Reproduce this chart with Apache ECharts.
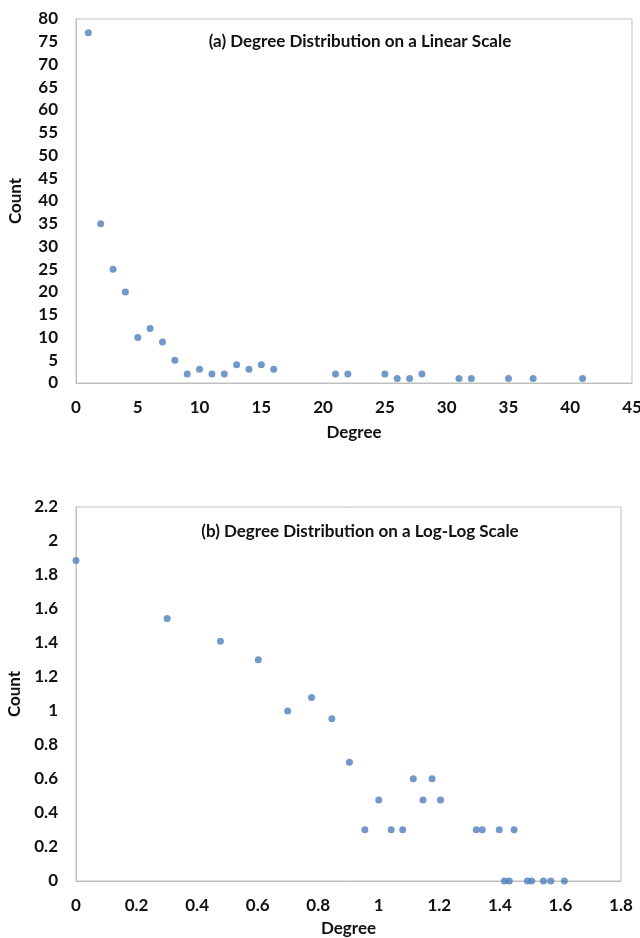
<!DOCTYPE html>
<html>
<head>
<meta charset="utf-8">
<script src="https://cdn.jsdelivr.net/npm/echarts@6/dist/echarts.min.js"></script>
<style>
  html, body { margin: 0; padding: 0; background: #fff; }
  #main { width: 640px; height: 938px; }
</style>
</head>
<body>
<div id="main"></div>
<script>
// degree and count, linear scale (panel a)
var degrees = [1, 2, 3, 4, 5, 6, 7, 8, 9, 10, 11, 12, 13, 14, 15, 16, 21, 22, 25, 26, 27, 28, 31, 32, 35, 37, 41];
var counts = [77, 35, 25, 20, 10, 12, 9, 5, 2, 3, 2, 2, 4, 3, 4, 3, 2, 2, 2, 1, 1, 2, 1, 1, 1, 1, 1];

// log10 degree and log10 count (panel b)
var logDegrees = [0, 0.301, 0.477, 0.602, 0.699, 0.778, 0.845, 0.903, 0.954, 1.0, 1.041, 1.079, 1.114, 1.146, 1.176, 1.204, 1.322, 1.342, 1.398, 1.415, 1.431, 1.447, 1.491, 1.505, 1.544, 1.568, 1.613];
var logCounts = [1.886, 1.544, 1.41, 1.301, 1.0, 1.079, 0.954, 0.699, 0.301, 0.477, 0.301, 0.301, 0.602, 0.477, 0.602, 0.477, 0.301, 0.301, 0.301, 0, 0, 0.301, 0, 0, 0, 0, 0];

var titleA = '(a) Degree Distribution on a Linear Scale';
var titleB = '(b) Degree Distribution on a Log-Log Scale';

function pairs(xs, ys) {
    return xs.map(function (x, i) { return [x, ys[i]]; });
}

var font = 'Lato, "Open Sans", sans-serif';
var gray = '#bfbfbf';
var dot = '#4f7fbd';
var ink = '#111';

var labelStyle = { fontFamily: font, fontWeight: 'bold', fontSize: 17, color: ink };
var nameStyle = { fontFamily: font, fontWeight: 'bold', fontSize: 17, color: ink };
var titleStyle = { fontFamily: font, fontWeight: 'bold', fontSize: 17, color: ink };

function valueAxis(idx, min, max, step, name, gap, margin) {
    return {
        type: 'value', gridIndex: idx, min: min, max: max, interval: step,
        name: name, nameLocation: 'middle', nameGap: gap, nameTextStyle: nameStyle,
        axisLine: { show: true, lineStyle: { color: gray, width: 1 } },
        axisTick: { show: false },
        splitLine: { show: false },
        axisLabel: Object.assign({ margin: margin }, labelStyle)
    };
}

var myChart = echarts.init(document.getElementById('main'));
var option = {
    animation: false,
    backgroundColor: '#fff',
    title: [
        { text: titleA, left: 355, top: 28, textAlign: 'center', textStyle: titleStyle },
        { text: titleB, left: 355, top: 518, textAlign: 'center', textStyle: titleStyle }
    ],
    grid: [
        { left: 76, top: 19, width: 556, height: 364, show: true, borderColor: gray, borderWidth: 1,
          containLabel: false, outerBoundsMode: 'none' },
        { left: 76, top: 507, width: 545, height: 374, show: true, borderColor: gray, borderWidth: 1,
          containLabel: false, outerBoundsMode: 'none' }
    ],
    xAxis: [
        valueAxis(0, 0, 45, 5, 'Degree', 41, 16),
        valueAxis(1, 0, 1.8, 0.2, 'Degree', 39, 16)
    ],
    yAxis: [
        valueAxis(0, 0, 80, 5, 'Count', 52, 18),
        valueAxis(1, 0, 2.2, 0.2, 'Count', 52, 18)
    ],
    series: [
        { type: 'scatter', xAxisIndex: 0, yAxisIndex: 0, symbolSize: 7,
          itemStyle: { color: dot }, data: pairs(degrees, counts) },
        { type: 'scatter', xAxisIndex: 1, yAxisIndex: 1, symbolSize: 7,
          itemStyle: { color: dot }, data: pairs(logDegrees, logCounts) }
    ]
};
myChart.setOption(option);
</script>
</body>
</html>
